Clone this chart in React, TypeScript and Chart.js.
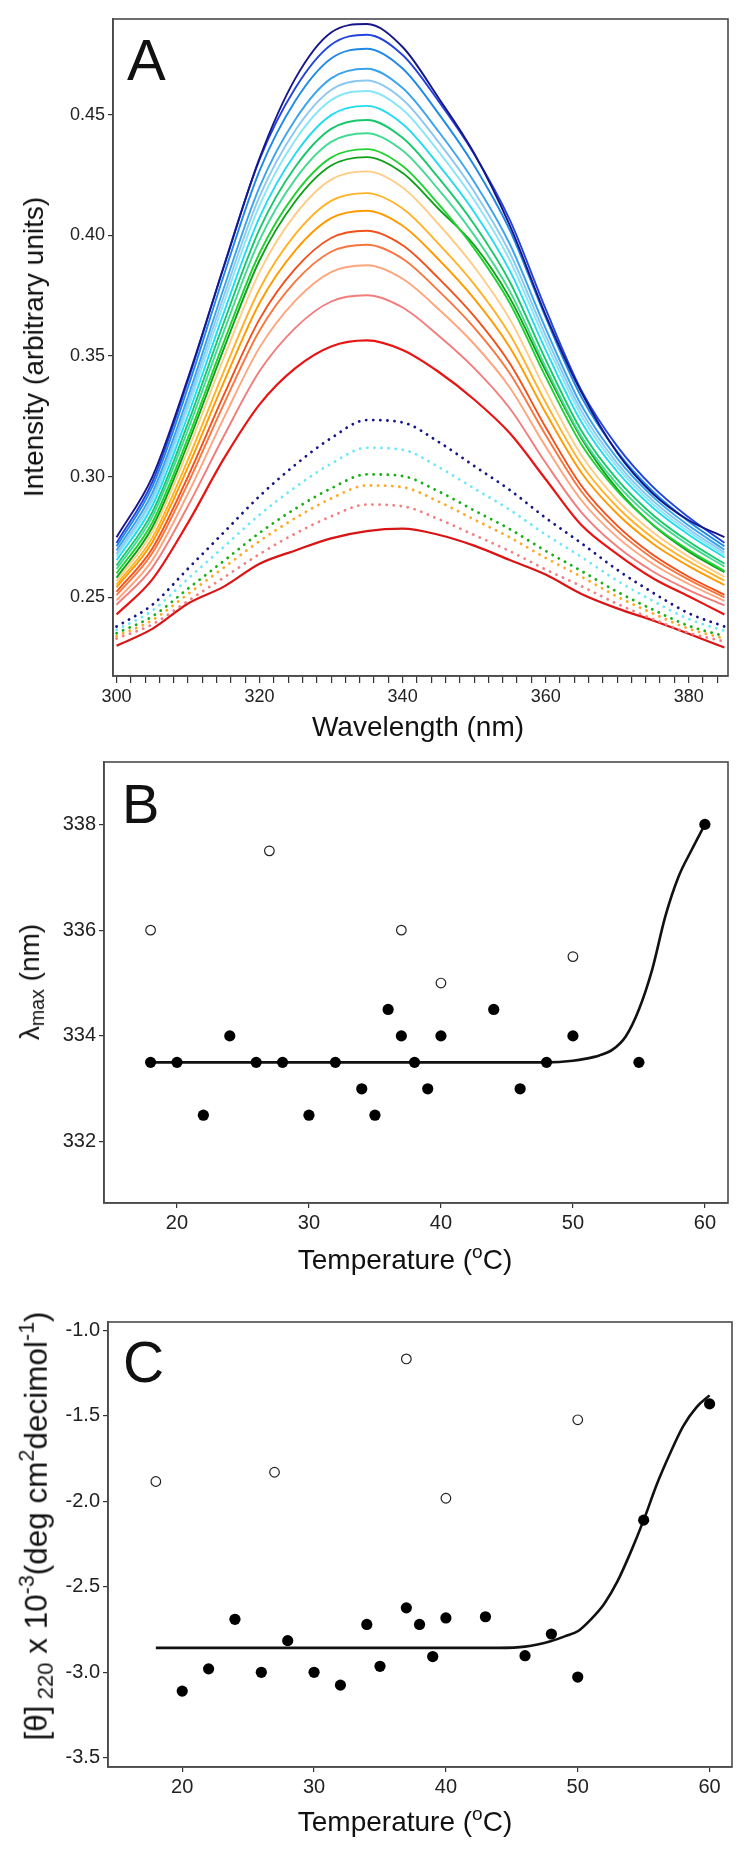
import React, { useEffect, useRef } from "react";
import { Chart, registerables } from "chart.js";
Chart.register(...registerables);

// ---------- Panel A : emission spectra ----------
const WAVELENGTHS = [300, 305, 310, 315, 320, 325, 330, 335, 340, 345, 350, 355, 360, 365, 370, 375, 380, 385];
const A_X_LABELS = [300, 320, 340, 360, 380];
const A_Y_TICKS = [0.25, 0.3, 0.35, 0.4, 0.45];

const A_NAVY = [0.275, 0.300, 0.341, 0.387, 0.432, 0.465, 0.484, 0.4875, 0.478, 0.457, 0.434, 0.404, 0.367, 0.335, 0.310, 0.293, 0.282, 0.275];
const A_BLUE = [0.2726, 0.2979, 0.3400, 0.3873, 0.4315, 0.4610, 0.4789, 0.4831, 0.4747, 0.4557, 0.4337, 0.4063, 0.3695, 0.3358, 0.3127, 0.2958, 0.2832, 0.2727];
const A_DODGER = [0.2712, 0.2959, 0.3372, 0.3835, 0.4268, 0.4557, 0.4732, 0.4773, 0.4691, 0.4505, 0.4289, 0.4021, 0.3660, 0.3330, 0.3104, 0.2939, 0.2815, 0.2712];
const A_AZURE = [0.2695, 0.2934, 0.3333, 0.3782, 0.4201, 0.4480, 0.4650, 0.4690, 0.4610, 0.4431, 0.4222, 0.3963, 0.3614, 0.3296, 0.3076, 0.2917, 0.2798, 0.2698];
const A_SKY = [0.2680, 0.2915, 0.3308, 0.3749, 0.4161, 0.4435, 0.4602, 0.4641, 0.4563, 0.4387, 0.4182, 0.3927, 0.3585, 0.3273, 0.3057, 0.2901, 0.2784, 0.2686];
const A_LCYAN = [0.2669, 0.2900, 0.3286, 0.3720, 0.4125, 0.4395, 0.4560, 0.4598, 0.4521, 0.4348, 0.4146, 0.3896, 0.3560, 0.3253, 0.3041, 0.2887, 0.2772, 0.2676];
const A_CYAN = [0.2654, 0.2880, 0.3256, 0.3680, 0.4075, 0.4338, 0.4498, 0.4536, 0.4461, 0.4293, 0.4097, 0.3853, 0.3526, 0.3227, 0.3021, 0.2872, 0.2760, 0.2666];
const A_SPRING = [0.2633, 0.2854, 0.3223, 0.3639, 0.4026, 0.4284, 0.4441, 0.4478, 0.4404, 0.4239, 0.4046, 0.3807, 0.3485, 0.3191, 0.2989, 0.2842, 0.2732, 0.2640];
const A_MSPRING = [0.2618, 0.2835, 0.3196, 0.3602, 0.3981, 0.4233, 0.4387, 0.4423, 0.4351, 0.4190, 0.4001, 0.3768, 0.3454, 0.3167, 0.2969, 0.2825, 0.2718, 0.2628];
const A_GREEN = [0.2600, 0.2811, 0.3162, 0.3558, 0.3927, 0.4173, 0.4322, 0.4357, 0.4287, 0.4130, 0.3946, 0.3719, 0.3414, 0.3134, 0.2942, 0.2802, 0.2697, 0.2610];
const A_FOREST = [0.2582, 0.2791, 0.3139, 0.3531, 0.3897, 0.4141, 0.4289, 0.4324, 0.4258, 0.4110, 0.3960, 0.3740, 0.3440, 0.3160, 0.2950, 0.2800, 0.2690, 0.2605];
const A_LORANGE = [0.2568, 0.2772, 0.3111, 0.3493, 0.3849, 0.4087, 0.4231, 0.4265, 0.4198, 0.4047, 0.3870, 0.3652, 0.3358, 0.3089, 0.2904, 0.2770, 0.2669, 0.2585];
const A_ORANGE = [0.2553, 0.2748, 0.3072, 0.3437, 0.3778, 0.4005, 0.4143, 0.4175, 0.4111, 0.3966, 0.3798, 0.3589, 0.3308, 0.3052, 0.2875, 0.2747, 0.2650, 0.2570];
const A_DORANGE = [0.2542, 0.2729, 0.3041, 0.3392, 0.3720, 0.3938, 0.4071, 0.4102, 0.4040, 0.3901, 0.3738, 0.3536, 0.3265, 0.3017, 0.2847, 0.2723, 0.2630, 0.2552];
const A_REDORANGE = [0.2524, 0.2703, 0.3002, 0.3339, 0.3653, 0.3862, 0.3989, 0.4019, 0.3959, 0.3823, 0.3665, 0.3469, 0.3205, 0.2963, 0.2798, 0.2677, 0.2586, 0.2511];
const A_CORAL = [0.2510, 0.2684, 0.2974, 0.3301, 0.3606, 0.3809, 0.3932, 0.3961, 0.3903, 0.3771, 0.3618, 0.3428, 0.3173, 0.2939, 0.2778, 0.2662, 0.2574, 0.2501];
const A_LSALMON = [0.2488, 0.2655, 0.2932, 0.3244, 0.3536, 0.3730, 0.3848, 0.3876, 0.3820, 0.3695, 0.3550, 0.3369, 0.3125, 0.2903, 0.2750, 0.2639, 0.2556, 0.2486];
const A_PINK = [0.2470, 0.2624, 0.2880, 0.3169, 0.3438, 0.3617, 0.3726, 0.3752, 0.3701, 0.3585, 0.3450, 0.3283, 0.3058, 0.2853, 0.2711, 0.2608, 0.2531, 0.2467];
const A_RED = [0.2430, 0.2575, 0.2810, 0.3075, 0.3300, 0.3450, 0.3540, 0.3565, 0.3525, 0.3435, 0.3320, 0.3180, 0.2990, 0.2800, 0.2680, 0.2580, 0.2505, 0.2430];
const A_DOT_NAVY = [0.2380, 0.2470, 0.2620, 0.2770, 0.2920, 0.3050, 0.3160, 0.3235, 0.3225, 0.3145, 0.3045, 0.2945, 0.2830, 0.2725, 0.2615, 0.2520, 0.2435, 0.2380];
const A_DOT_CYAN = [0.2366, 0.2446, 0.2578, 0.2710, 0.2843, 0.2957, 0.3054, 0.3120, 0.3112, 0.3041, 0.2952, 0.2863, 0.2761, 0.2668, 0.2570, 0.2486, 0.2411, 0.2362];
const A_DOT_GREEN = [0.2352, 0.2422, 0.2537, 0.2652, 0.2768, 0.2868, 0.2952, 0.3010, 0.3003, 0.2940, 0.2861, 0.2783, 0.2693, 0.2610, 0.2524, 0.2450, 0.2383, 0.2340];
const A_DOT_ORANGE = [0.2340, 0.2406, 0.2515, 0.2624, 0.2734, 0.2829, 0.2910, 0.2964, 0.2957, 0.2898, 0.2823, 0.2749, 0.2664, 0.2586, 0.2504, 0.2434, 0.2371, 0.2330];
const A_DOT_PINK = [0.2330, 0.2389, 0.2486, 0.2583, 0.2680, 0.2765, 0.2836, 0.2885, 0.2878, 0.2825, 0.2759, 0.2692, 0.2616, 0.2547, 0.2474, 0.2411, 0.2354, 0.2318];
const A_BOTTOM = [0.2300, 0.2370, 0.2475, 0.2545, 0.2640, 0.2695, 0.2745, 0.2775, 0.2785, 0.2760, 0.2715, 0.2655, 0.2595, 0.2515, 0.2455, 0.2405, 0.2350, 0.2293];

// ---------- Panel B : lambda max vs temperature ----------
const B_FILLED_T = [18, 20, 22, 24, 26, 28, 30, 32, 34, 35, 36, 37, 38, 39, 40, 44, 46, 48, 50, 55, 60];
const B_FILLED_Y = [333.5, 333.5, 332.5, 334, 333.5, 333.5, 332.5, 333.5, 333, 332.5, 334.5, 334, 333.5, 333, 334, 334.5, 333, 333.5, 334, 333.5, 338];
const B_OPEN_T = [18, 27, 37, 40, 50];
const B_OPEN_Y = [336, 337.5, 336, 335, 335.5];
const B_FIT_T = [18, 25, 30, 35, 40, 45, 48, 50, 51, 52, 53, 54, 55, 56, 57, 58, 59, 60];
const B_FIT_Y = [333.5, 333.5, 333.5, 333.5, 333.5, 333.5, 333.5, 333.53, 333.57, 333.63, 333.74, 333.99, 334.5, 335.25, 336.26, 337.01, 337.52, 338.0];
const B_X_TICKS = [20, 30, 40, 50, 60];
const B_Y_TICKS = [332, 334, 336, 338];

// ---------- Panel C : ellipticity vs temperature ----------
const C_FILLED_T = [20, 22, 24, 26, 28, 30, 32, 34, 35, 37, 38, 39, 40, 43, 46, 48, 50, 55, 60];
const C_FILLED_Y = [-3.11, -2.98, -2.69, -3.0, -2.815, -3.0, -3.075, -2.72, -2.965, -2.623, -2.72, -2.908, -2.682, -2.675, -2.903, -2.776, -3.028, -2.11, -1.43];
const C_OPEN_T = [18, 27, 37, 40, 50];
const C_OPEN_Y = [-1.884, -1.83, -1.167, -1.982, -1.523];
const C_FIT_T = [18, 25, 30, 35, 40, 44, 46, 48, 49, 50, 51, 52, 53, 54, 55, 56, 57, 58, 59, 60];
const C_FIT_Y = [-2.857, -2.857, -2.857, -2.857, -2.857, -2.857, -2.85, -2.817, -2.79, -2.76, -2.69, -2.6, -2.47, -2.3, -2.11, -1.9, -1.72, -1.56, -1.45, -1.38];
const C_X_TICKS = [20, 30, 40, 50, 60];
const C_Y_TICKS = [-3.5, -3.0, -2.5, -2.0, -1.5, -1.0];

const SANS = "'Liberation Sans', Arial, sans-serif";
const NARROW = "'Liberation Sans Narrow', 'Liberation Sans', Arial, sans-serif";

const A_SERIES = [
  { v: A_NAVY, c: "#16168a" },
  { v: A_BLUE, c: "#2244dd" },
  { v: A_DODGER, c: "#1e8ae6" },
  { v: A_AZURE, c: "#3aa4ec" },
  { v: A_SKY, c: "#8cc8f0" },
  { v: A_LCYAN, c: "#86e6f8" },
  { v: A_CYAN, c: "#22dcee" },
  { v: A_SPRING, c: "#18c86c" },
  { v: A_MSPRING, c: "#44da92" },
  { v: A_GREEN, c: "#22d232" },
  { v: A_FOREST, c: "#10a018" },
  { v: A_LORANGE, c: "#ffcc84" },
  { v: A_ORANGE, c: "#ffb226" },
  { v: A_DORANGE, c: "#ff9a00" },
  { v: A_REDORANGE, c: "#f2501a" },
  { v: A_CORAL, c: "#f8763e" },
  { v: A_LSALMON, c: "#ffa47c" },
  { v: A_PINK, c: "#f27c7c" },
  { v: A_RED, c: "#e81414", w: 2.2 },
  { v: A_DOT_NAVY, c: "#16168a", dot: true },
  { v: A_DOT_CYAN, c: "#6ee8f6", dot: true },
  { v: A_DOT_GREEN, c: "#14b014", dot: true },
  { v: A_DOT_ORANGE, c: "#ffa826", dot: true },
  { v: A_DOT_PINK, c: "#f28080", dot: true },
  { v: A_BOTTOM, c: "#d81414", w: 2.2 },
];

const boxPlugin = {
  id: "box",
  afterDraw(chart: any) {
    const { ctx, chartArea: a } = chart;
    ctx.save();
    ctx.strokeStyle = "#4a4a4a";
    ctx.lineWidth = 1.6;
    ctx.strokeRect(a.left, a.top, a.right - a.left, a.bottom - a.top);
    ctx.restore();
  },
};

function axisCommon(font: any) {
  return {
    grid: { drawOnChartArea: false, drawTicks: true, tickLength: 6, color: "#333", lineWidth: 1.2 },
    border: { display: true, color: "#4a4a4a", width: 1.6 },
    ticks: { font, color: "#222", autoSkip: false, maxRotation: 0, padding: 4 },
  };
}

function scatterConfig(opts: any) {
  const tickFont = { family: NARROW, size: 20 };
  const xc = axisCommon(tickFont);
  const yc = axisCommon(tickFont);
  return {
    type: "scatter",
    data: {
      datasets: [
        {
          data: opts.fitT.map((x: number, i: number) => ({ x, y: opts.fitY[i] })),
          showLine: true,
          borderColor: "#111",
          borderWidth: 2.6,
          pointRadius: 0,
          cubicInterpolationMode: "monotone",
          order: 3,
        },
        {
          data: opts.openT.map((x: number, i: number) => ({ x, y: opts.openY[i] })),
          pointRadius: 4.8,
          backgroundColor: "rgba(255,255,255,0)",
          borderColor: "#222",
          borderWidth: 1.2,
          order: 2,
        },
        {
          data: opts.filledT.map((x: number, i: number) => ({ x, y: opts.filledY[i] })),
          pointRadius: 5.6,
          backgroundColor: "#000",
          borderColor: "#000",
          borderWidth: 0,
          order: 1,
        },
      ],
    },
    options: {
      responsive: false,
      animation: false,
      events: [],
      layout: { padding: opts.padding },
      plugins: { legend: { display: false }, tooltip: { enabled: false } },
      scales: {
        x: {
          type: "linear",
          min: opts.xMin,
          max: opts.xMax,
          ...xc,
          grid: { ...xc.grid, tickLength: 5 },
          ticks: { ...xc.ticks, padding: 3, callback: (v: number) => String(v) },
          afterBuildTicks: (ax: any) => {
            ax.ticks = opts.xTicks.map((v: number) => ({ value: v }));
          },
          afterFit: (s: any) => {
            s.height = opts.xAxisH;
          },
        },
        y: {
          type: "linear",
          min: opts.yMin,
          max: opts.yMax,
          ...yc,
          grid: { ...yc.grid, tickLength: 5 },
          ticks: { ...yc.ticks, padding: 3, callback: opts.yFmt },
          afterBuildTicks: (ax: any) => {
            ax.ticks = opts.yTicks.map((v: number) => ({ value: v }));
          },
          afterFit: (s: any) => {
            s.width = opts.yAxisW;
          },
        },
      },
    },
    plugins: [boxPlugin],
  };
}

export default function App() {
  const refA = useRef<HTMLCanvasElement>(null);
  const refB = useRef<HTMLCanvasElement>(null);
  const refC = useRef<HTMLCanvasElement>(null);

  useEffect(() => {
    document.body.style.margin = "0";
    const tickA = { family: SANS, size: 18 };
    const ac = axisCommon(tickA);
    const minorA: number[] = [];
    for (let v = 300; v <= 384; v += 2) minorA.push(v);

    const chartA = new Chart(refA.current as HTMLCanvasElement, {
      type: "line",
      data: {
        datasets: A_SERIES.map((s: any) => ({
          data: WAVELENGTHS.map((x, i) => ({ x, y: s.v[i] })),
          borderColor: s.c,
          borderWidth: s.dot ? 2.8 : s.w || 1.9,
          borderDash: s.dot ? [0.1, 7] : [],
          borderCapStyle: s.dot ? "round" : "butt",
          pointRadius: 0,
          cubicInterpolationMode: "monotone",
          fill: false,
        })),
      },
      options: {
        responsive: false,
        animation: false,
        events: [],
        layout: { padding: { top: 19, right: 20, left: 0, bottom: 0 } },
        plugins: { legend: { display: false }, tooltip: { enabled: false } },
        scales: {
          x: {
            type: "linear",
            min: 299.5,
            max: 385.5,
            ...ac,
            grid: { ...ac.grid, tickLength: 7 },
            ticks: {
              ...ac.ticks,
              padding: 3,
              callback: (v: number) => (A_X_LABELS.includes(v) ? String(v) : ""),
            },
            afterBuildTicks: (ax: any) => {
              ax.ticks = minorA.map((v) => ({ value: v }));
            },
            afterFit: (s: any) => {
              s.height = 64;
            },
          },
          y: {
            type: "linear",
            min: 0.2175,
            max: 0.4896,
            ...ac,
            grid: { ...ac.grid, tickLength: 5 },
            ticks: { ...ac.ticks, padding: 3, callback: (v: number) => v.toFixed(2) },
            afterBuildTicks: (ax: any) => {
              ax.ticks = A_Y_TICKS.map((v) => ({ value: v }));
            },
            afterFit: (s: any) => {
              s.width = 113;
            },
          },
        },
      },
      plugins: [boxPlugin],
    } as any);

    const chartB = new Chart(
      refB.current as HTMLCanvasElement,
      scatterConfig({
        fitT: B_FIT_T, fitY: B_FIT_Y, openT: B_OPEN_T, openY: B_OPEN_Y, filledT: B_FILLED_T, filledY: B_FILLED_Y,
        xMin: 14.47, xMax: 61.75, yMin: 330.84, yMax: 339.18,
        xTicks: B_X_TICKS, yTicks: B_Y_TICKS,
        yFmt: (v: number) => String(v),
        padding: { top: 22, right: 20, left: 0, bottom: 0 },
        xAxisH: 37, yAxisW: 104,
      }) as any
    );

    const chartC = new Chart(
      refC.current as HTMLCanvasElement,
      scatterConfig({
        fitT: C_FIT_T, fitY: C_FIT_Y, openT: C_OPEN_T, openY: C_OPEN_Y, filledT: C_FILLED_T, filledY: C_FILLED_Y,
        xMin: 14.37, xMax: 61.7, yMin: -3.554, yMax: -0.951,
        xTicks: C_X_TICKS, yTicks: C_Y_TICKS,
        yFmt: (v: number) => v.toFixed(1),
        padding: { top: 82, right: 16, left: 0, bottom: 0 },
        xAxisH: 87, yAxisW: 108,
      }) as any
    );

    return () => {
      chartA.destroy();
      chartB.destroy();
      chartC.destroy();
    };
  }, []);

  const abs: any = { position: "absolute", whiteSpace: "nowrap", lineHeight: 1, color: "#111" };
  const rotY = (cx: number, cy: number, size: number, family: string): any => ({
    ...abs,
    left: cx,
    top: cy,
    fontSize: size,
    fontFamily: family,
    transform: "translate(-50%, -50%) rotate(-90deg)",
  });
  const horiz = (cx: number, cy: number, size: number, family: string): any => ({
    ...abs,
    left: cx,
    top: cy,
    fontSize: size,
    fontFamily: family,
    transform: "translate(-50%, -50%)",
  });
  const sup: any = { fontSize: "0.68em", verticalAlign: "0.62em" };
  const sub: any = { fontSize: "0.7em", verticalAlign: "-0.28em" };

  return (
    <div style={{ position: "relative", width: 748, height: 1854, background: "#fff", overflow: "hidden" }}>
      <canvas ref={refA} width={748} height={740} style={{ position: "absolute", left: 0, top: 0, width: 748, height: 740 }} />
      <canvas ref={refB} width={748} height={500} style={{ position: "absolute", left: 0, top: 740, width: 748, height: 500 }} />
      <canvas ref={refC} width={748} height={614} style={{ position: "absolute", left: 0, top: 1240, width: 748, height: 614 }} />

      <div style={{ ...abs, left: 127, top: 31, fontSize: 58, fontFamily: SANS }}>A</div>
      <div style={{ ...abs, left: 122, top: 776, fontSize: 56, fontFamily: SANS }}>B</div>
      <div style={{ ...abs, left: 123, top: 1334, fontSize: 57, fontFamily: SANS }}>C</div>

      <div style={rotY(34, 347, 28, SANS)}>Intensity (arbitrary units)</div>
      <div style={horiz(418, 727, 28, SANS)}>Wavelength (nm)</div>

      <div style={rotY(32, 982, 28, SANS)}>
        λ<span style={sub}>max</span> (nm)
      </div>
      <div style={horiz(405, 1258, 28, NARROW)}>
        Temperature (<span style={sup}>o</span>C)
      </div>

      <div style={rotY(37, 1526, 31.5, SANS)}>
        [θ]<span style={sub}> 220</span> x 10<span style={sup}>-3</span>(deg cm<span style={sup}>2</span>decimol<span style={sup}>-1</span>)
      </div>
      <div style={horiz(405, 1820, 28, NARROW)}>
        Temperature (<span style={sup}>o</span>C)
      </div>
    </div>
  );
}
